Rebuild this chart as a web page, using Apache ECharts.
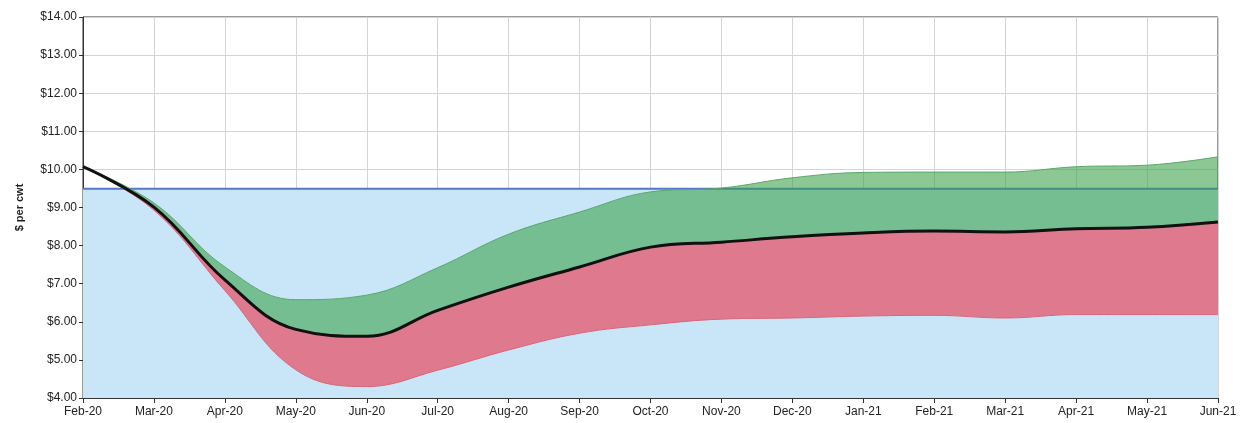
<!DOCTYPE html>
<html>
<head>
<meta charset="utf-8">
<script src="https://cdn.jsdelivr.net/npm/echarts@6/dist/echarts.min.js"></script>
<style>
  html, body { margin: 0; padding: 0; background: #fff; }
  #chart { width: 1246px; height: 423px; }
</style>
</head>
<body>
<div id="chart"></div>
<script>
// months along the x axis
var months = ['Feb-20', 'Mar-20', 'Apr-20', 'May-20', 'Jun-20', 'Jul-20', 'Aug-20', 'Sep-20',
  'Oct-20', 'Nov-20', 'Dec-20', 'Jan-21', 'Feb-21', 'Mar-21', 'Apr-21', 'May-21', 'Jun-21']

// price paths ($ per cwt)
var meanPrice = [10.07, 9.01, 7.10, 5.80, 5.62, 6.30, 6.91, 7.44, 7.96, 8.09, 8.23, 8.33, 8.38, 8.36, 8.44, 8.48, 8.62]
var upperPrice = [10.07, 9.12, 7.44, 6.58, 6.70, 7.42, 8.30, 8.88, 9.41, 9.51, 9.78, 9.92, 9.93, 9.93, 10.07, 10.11, 10.33]
var lowerPrice = [10.07, 8.93, 6.82, 4.74, 4.30, 4.73, 5.26, 5.70, 5.92, 6.07, 6.10, 6.15, 6.17, 6.10, 6.19, 6.19, 6.19]
var floorPrice = 9.49

var yTicks = { min: 4, max: 14, step: 1 }

var redBand = meanPrice.map(function (v, i) { return +(v - lowerPrice[i]).toFixed(2) })
var greenBand = upperPrice.map(function (v, i) { return +(v - meanPrice[i]).toFixed(2) })
var floorLine = months.map(function () { return floorPrice })

var chart = echarts.init(document.getElementById('chart'))
var font = 'Liberation Sans, Arial, sans-serif'

chart.setOption({
  animation: false,
  grid: {
    left: 83,
    right: 28,
    top: 17,
    bottom: 25,
    show: true,
    borderColor: '#333',
    borderWidth: 1,
    backgroundColor: '#fff'
  },
  xAxis: {
    type: 'category',
    data: months,
    boundaryGap: false,
    axisLine: { lineStyle: { color: '#333' } },
    axisTick: { show: true, length: 5, lineStyle: { color: '#333' } },
    axisLabel: { color: '#222', fontSize: 12, fontFamily: font, margin: 8 },
    splitLine: { show: true, lineStyle: { color: '#d4d4d4' } }
  },
  yAxis: {
    type: 'value',
    min: yTicks.min,
    max: yTicks.max,
    interval: yTicks.step,
    name: '$ per cwt',
    nameLocation: 'middle',
    nameGap: 58,
    nameMoveOverlap: false,
    nameTextStyle: { fontSize: 11, fontWeight: 'bold', color: '#222', fontFamily: font },
    axisLine: { show: true, lineStyle: { color: '#333' } },
    axisTick: { show: true, length: 4, lineStyle: { color: '#333' } },
    axisLabel: {
      color: '#222', fontSize: 12, fontFamily: font, margin: 6,
      formatter: function (v) { return '$' + v.toFixed(2) }
    },
    splitLine: { show: true, lineStyle: { color: '#d4d4d4' } }
  },
  series: [
    {
      name: 'floor',
      type: 'line',
      data: floorLine,
      symbol: 'none',
      z: 1,
      lineStyle: { color: '#5577cc', width: 2 },
      areaStyle: { color: '#c8e6f8', opacity: 1 }
    },
    {
      name: 'base',
      type: 'line',
      stack: 'band',
      data: lowerPrice,
      symbol: 'none',
      smooth: 0.4,
      z: 2,
      lineStyle: { width: 0, opacity: 0 }
    },
    {
      name: 'downside',
      type: 'line',
      stack: 'band',
      data: redBand,
      symbol: 'none',
      smooth: 0.4,
      z: 3,
      lineStyle: { width: 0, opacity: 0 },
      areaStyle: { color: 'rgba(230,90,110,0.78)', opacity: 1 }
    },
    {
      name: 'upside',
      type: 'line',
      stack: 'band',
      data: greenBand,
      symbol: 'none',
      smooth: 0.4,
      z: 4,
      lineStyle: { color: '#5aa86a', width: 1 },
      areaStyle: { color: 'rgba(55,160,70,0.58)', opacity: 1 }
    },
    {
      name: 'lower edge',
      type: 'line',
      data: lowerPrice,
      symbol: 'none',
      smooth: 0.4,
      z: 5,
      lineStyle: { color: '#d9667a', width: 1 }
    },
    {
      name: 'mean',
      type: 'line',
      data: meanPrice,
      symbol: 'none',
      smooth: 0.4,
      z: 6,
      lineStyle: { color: '#111', width: 3 }
    }
  ]
})
</script>
</body>
</html>
